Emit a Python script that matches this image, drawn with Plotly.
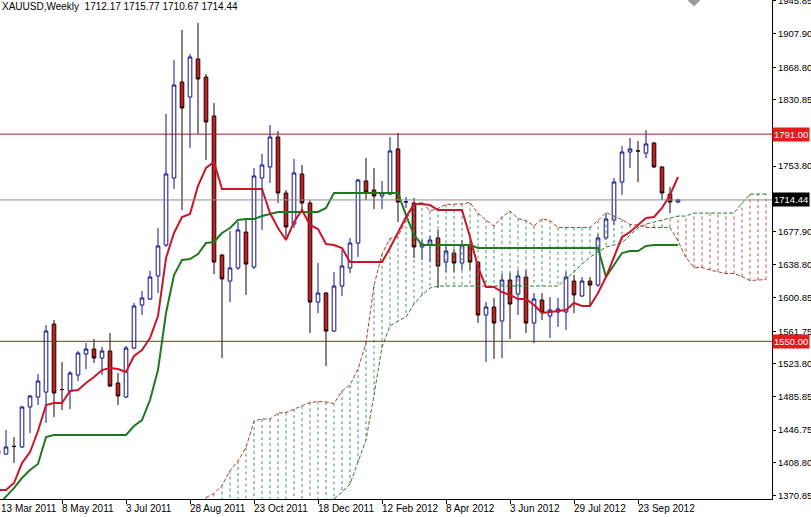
import plotly.graph_objects as go

# ---------------- data ----------------
symbol = "XAUUSD"
timeframe = "Weekly"

tick_weeks = [0, 8, 16, 24, 32, 40, 48, 56, 64, 72, 80]
tick_labels = ["13 Mar 2011", "8 May 2011", "3 Jul 2011", "28 Aug 2011", "23 Oct 2011",
               "18 Dec 2011", "12 Feb 2012", "8 Apr 2012", "3 Jun 2012", "29 Jul 2012",
               "23 Sep 2012"]

opens = [1418.9, 1418.9, 1428.0, 1427.1, 1473.6, 1485.2, 1491.0, 1570.1, 1494.0, 1492.2,
         1510.8, 1535.2, 1541.0, 1530.6, 1538.7, 1501.5, 1485.2, 1542.2, 1592.2, 1599.2,
         1626.0, 1662.0, 1740.0, 1851.6, 1834.2, 1878.4, 1857.4, 1812.1, 1650.4, 1620.1,
         1635.3, 1677.1, 1636.4, 1740.0, 1752.8, 1787.6, 1722.5, 1686.4, 1744.6, 1710.9,
         1595.7, 1606.2, 1562.0, 1614.3, 1635.3, 1664.3, 1736.5, 1726.0, 1719.0, 1721.3,
         1773.7, 1712.0, 1710.9, 1659.7, 1662.0, 1670.2, 1642.2, 1652.7, 1641.1, 1662.0,
         1642.2, 1580.6, 1589.9, 1573.6, 1621.3, 1605.0, 1624.8, 1571.3, 1598.0, 1579.4,
         1584.1, 1584.1, 1620.1, 1602.7, 1620.1, 1615.5, 1670.2, 1691.1, 1735.3, 1770.2,
         1771.6, 1769.0, 1780.7, 1752.8, 1721.3, 1712.17]
highs = [1427.0, 1446.8, 1438.7, 1474.7, 1487.5, 1512.0, 1569.0, 1574.8, 1525.9, 1515.5,
         1538.7, 1548.0, 1552.7, 1543.4, 1559.7, 1513.1, 1544.5, 1594.5, 1608.5, 1631.8,
         1681.8, 1814.4, 1877.2, 1912.1, 1884.2, 1920.2, 1860.9, 1827.2, 1651.5, 1678.3,
         1688.8, 1693.4, 1751.6, 1767.9, 1801.6, 1794.6, 1726.0, 1762.0, 1755.1, 1714.4,
         1641.1, 1607.3, 1630.6, 1656.2, 1670.2, 1738.8, 1763.2, 1751.6, 1736.5, 1787.6,
         1792.3, 1717.9, 1716.7, 1667.8, 1672.5, 1679.5, 1662.0, 1657.4, 1667.8, 1666.7,
         1643.4, 1595.7, 1600.4, 1628.3, 1629.4, 1632.9, 1632.9, 1606.2, 1606.2, 1601.5,
         1600.4, 1630.6, 1627.1, 1624.8, 1624.8, 1674.8, 1698.1, 1739.9, 1777.2, 1786.5,
         1783.0, 1795.8, 1781.5, 1753.5, 1729.5, 1715.77]
lows = [1415.4, 1417.7, 1408.4, 1425.9, 1443.3, 1475.9, 1455.0, 1462.0, 1470.1, 1471.3,
        1503.8, 1517.8, 1524.8, 1510.8, 1496.8, 1475.9, 1484.0, 1541.0, 1580.6, 1598.0,
        1606.2, 1659.7, 1727.2, 1702.7, 1774.8, 1791.1, 1760.9, 1628.3, 1530.6, 1595.7,
        1633.0, 1603.9, 1634.1, 1679.5, 1734.1, 1710.9, 1670.2, 1681.8, 1702.7, 1559.7,
        1582.9, 1521.3, 1560.8, 1602.7, 1629.4, 1648.1, 1714.4, 1703.9, 1703.9, 1720.2,
        1688.8, 1705.1, 1646.9, 1644.6, 1642.2, 1612.0, 1630.6, 1630.6, 1633.0, 1633.0,
        1571.3, 1525.9, 1529.4, 1530.6, 1552.7, 1580.6, 1559.7, 1548.0, 1574.8, 1553.8,
        1566.6, 1563.2, 1582.9, 1601.5, 1592.2, 1613.2, 1667.8, 1685.3, 1720.2, 1751.6,
        1735.3, 1763.2, 1751.6, 1714.4, 1699.2, 1710.67]
closes = [1423.6, 1427.1, 1427.6, 1473.6, 1486.4, 1503.8, 1562.0, 1489.9, 1493.9, 1513.1,
          1536.4, 1541.0, 1530.6, 1538.7, 1498.0, 1486.4, 1542.2, 1591.1, 1600.4, 1624.8,
          1660.9, 1744.6, 1848.1, 1821.4, 1880.7, 1855.1, 1805.1, 1642.2, 1622.5, 1635.3,
          1679.5, 1639.9, 1742.3, 1755.1, 1787.6, 1722.5, 1683.0, 1745.8, 1710.9, 1595.7,
          1606.2, 1562.0, 1614.3, 1637.6, 1664.3, 1737.6, 1723.7, 1719.0, 1722.5, 1771.4,
          1712.0, 1712.3, 1659.7, 1663.2, 1667.8, 1637.6, 1655.0, 1641.1, 1662.0, 1642.2,
          1580.6, 1589.9, 1571.3, 1621.3, 1593.4, 1626.0, 1571.3, 1599.2, 1584.1, 1586.4,
          1587.6, 1624.8, 1603.9, 1620.1, 1615.5, 1670.2, 1692.3, 1735.3, 1770.2, 1773.7,
          1771.4, 1779.5, 1752.8, 1722.5, 1712.0, 1714.44]

tenkan = [1377.0, 1377.0, 1385.2, 1408.4, 1421.2, 1445.7, 1475.9, 1478.2, 1478.2, 1492.2,
          1493.3, 1501.5, 1508.5, 1516.6, 1518.9, 1517.8, 1514.3, 1532.9, 1539.9, 1553.8,
          1579.4, 1646.9, 1676.0, 1694.6, 1698.1, 1730.7, 1751.6, 1758.6, 1727.2, 1727.2,
          1727.2, 1727.2, 1727.2, 1727.2, 1699.2, 1681.8, 1667.8, 1688.8, 1702.7, 1685.3,
          1680.6, 1663.2, 1662.0, 1658.5, 1642.2, 1642.2, 1642.2, 1642.2, 1642.2, 1658.5,
          1677.1, 1694.6, 1709.7, 1709.7, 1708.5, 1702.7, 1702.7, 1702.7, 1702.7, 1671.3,
          1636.4, 1613.2, 1613.2, 1607.3, 1603.9, 1599.2, 1599.2, 1592.2, 1582.9, 1584.1,
          1585.2, 1586.4, 1594.6, 1591.1, 1591.1, 1606.2, 1624.8, 1648.1, 1671.3, 1677.1,
          1685.3, 1693.4, 1694.6, 1705.1, 1720.2, 1741.1]
kijun = [1359.6, 1368.9, 1379.3, 1391.0, 1400.3, 1407.3, 1438.7, 1441.0, 1441.0, 1441.0,
         1441.0, 1441.0, 1441.0, 1441.0, 1441.0, 1441.0, 1441.0, 1451.5, 1458.4, 1481.7,
         1516.6, 1582.9, 1627.1, 1644.6, 1645.7, 1651.5, 1664.3, 1665.5, 1676.0, 1681.8,
         1691.1, 1692.3, 1692.3, 1695.8, 1698.1, 1700.4, 1700.4, 1700.4, 1700.4, 1700.4,
         1700.4, 1705.1, 1722.5, 1722.5, 1722.5, 1722.5, 1722.5, 1722.5, 1722.5, 1722.5,
         1722.5, 1696.9, 1673.7, 1662.0, 1662.0, 1662.0, 1662.0, 1662.0, 1662.0, 1662.0,
         1658.5, 1658.5, 1658.5, 1658.5, 1658.5, 1658.5, 1658.5, 1658.5, 1658.5, 1658.5,
         1658.5, 1658.5, 1658.5, 1658.5, 1658.5, 1658.5, 1624.8, 1638.8, 1652.7, 1655.0,
         1655.0, 1660.9, 1662.0, 1662.0, 1662.0, 1662.0]

cloud_start = 26   # first week index where the cloud values begin
senkou_a = [1368.3, 1373.0, 1382.3, 1399.7, 1410.8, 1426.5, 1457.3, 1459.6, 1459.6, 1466.6,
            1467.2, 1471.3, 1474.8, 1478.8, 1480.0, 1479.4, 1477.7, 1492.2, 1499.2, 1517.8,
            1548.0, 1614.9, 1651.6, 1669.6, 1671.9, 1691.1, 1708.0, 1712.1, 1701.6, 1704.5,
            1709.2, 1709.8, 1709.8, 1711.5, 1698.7, 1691.1, 1684.1, 1694.6, 1701.6, 1692.9,
            1690.5, 1684.2, 1692.3, 1690.5, 1682.4, 1682.4, 1682.4, 1682.4, 1682.4, 1690.5,
            1699.8, 1695.8, 1691.7, 1685.9, 1685.3, 1682.4, 1682.4, 1682.4, 1682.4, 1666.7,
            1647.5, 1635.9, 1635.9, 1632.9, 1631.2, 1628.9, 1628.9, 1625.4, 1620.7, 1621.3,
            1621.9]
senkou_b = [1322.0, 1322.0, 1322.0, 1322.0, 1322.0, 1322.0, 1325.0, 1325.0, 1330.0, 1330.0,
            1335.0, 1340.0, 1345.0, 1350.0, 1355.0, 1360.0, 1366.6, 1374.7, 1384.0, 1408.4,
            1435.2, 1487.5, 1543.4, 1567.8, 1573.6, 1578.3, 1593.4, 1603.9, 1612.0, 1614.3,
            1614.3, 1614.3, 1614.3, 1614.3, 1614.3, 1614.3, 1614.3, 1614.3, 1614.3, 1614.3,
            1614.3, 1614.3, 1614.3, 1614.3, 1614.3, 1622.5, 1630.6, 1639.9, 1648.0, 1653.9,
            1659.7, 1662.0, 1664.3, 1673.6, 1681.8, 1686.4, 1688.8, 1691.1, 1693.4, 1695.7,
            1695.7, 1699.2, 1699.2, 1699.2, 1699.2, 1699.2, 1699.2, 1710.9, 1721.3, 1721.3,
            1721.3]

price_ticks = [1945.85, 1907.90, 1868.80, 1830.85, 1753.80, 1677.90, 1638.80, 1600.85,
               1561.75, 1523.80, 1485.85, 1446.75, 1408.80, 1370.85]
resistance_level = 1791.00
support_level = 1550.00

# ---------------- styling ----------------
FONT = "Liberation Sans, Arial, sans-serif"
X_RANGE = [0.25, 96.75]
Y_RANGE = [1366.6, 1947.0]
BULL_LINE = "#10108a"
BEAR_LINE = "#1a0505"
BEAR_FILL = "#c41e1e"
TENKAN_COLOR = "#c8162a"
KIJUN_COLOR = "#1f7a1f"
SPAN_A_COLOR = "#a8403a"
SPAN_B_COLOR = "#2e7d32"
HATCH_GREEN = "#4a9468"
HATCH_BROWN = "#b35a4a"
LEVEL_COLOR = "#a31d1d"
LABEL_RED = "#e31b1b"
SHIFT_MARK_WEEK = 87

weeks = list(range(len(opens)))
cloud_weeks = list(range(cloud_start, cloud_start + len(senkou_a)))

fig = go.Figure()

# cloud hatching (vertical dotted strokes between the two spans)
gx, gy, bx, by = [], [], [], []
for w, a, b in zip(cloud_weeks, senkou_a, senkou_b):
    if a >= b:
        gx += [w, w, None]; gy += [a, b, None]
    else:
        bx += [w, w, None]; by += [a, b, None]
fig.add_trace(go.Scatter(x=gx, y=gy, mode="lines", hoverinfo="skip",
                         line=dict(color=HATCH_GREEN, width=1, dash="3px,3px")))
fig.add_trace(go.Scatter(x=bx, y=by, mode="lines", hoverinfo="skip",
                         line=dict(color=HATCH_BROWN, width=1, dash="3px,3px")))

# span lines
fig.add_trace(go.Scatter(x=cloud_weeks, y=senkou_a, mode="lines",
                         line=dict(color=SPAN_A_COLOR, width=1, dash="4px,2px")))
fig.add_trace(go.Scatter(x=cloud_weeks, y=senkou_b, mode="lines",
                         line=dict(color=SPAN_B_COLOR, width=1, dash="4px,2px")))

# candles
fig.add_trace(go.Candlestick(
    x=weeks, open=opens, high=highs, low=lows, close=closes,
    whiskerwidth=0,
    increasing=dict(line=dict(color=BULL_LINE, width=1), fillcolor="#ffffff"),
    decreasing=dict(line=dict(color=BEAR_LINE, width=1), fillcolor=BEAR_FILL),
))

# tenkan / kijun
fig.add_trace(go.Scatter(x=weeks, y=kijun, mode="lines",
                         line=dict(color=KIJUN_COLOR, width=2)))
fig.add_trace(go.Scatter(x=weeks, y=tenkan, mode="lines",
                         line=dict(color=TENKAN_COLOR, width=2)))

# chart-shift marker at the top
fig.add_trace(go.Scatter(x=[SHIFT_MARK_WEEK], y=[Y_RANGE[1]], mode="markers",
                         marker=dict(symbol="diamond", size=10, color="#9a9a9a")))

# horizontal level lines
for lvl in (resistance_level, support_level):
    fig.add_shape(type="line", xref="paper", x0=0, x1=1, yref="y", y0=lvl, y1=lvl,
                  line=dict(color=LEVEL_COLOR, width=1))
fig.add_shape(type="line", xref="paper", x0=0, x1=1, yref="y", y0=closes[-1], y1=closes[-1],
              line=dict(color="#8c8c8c", width=1))

annotations = []
# price labels on the axis
for lvl, bg in ((resistance_level, LABEL_RED), (support_level, LABEL_RED), (closes[-1], "#000000")):
    annotations.append(dict(x=1, xref="paper", y=lvl, yref="y", xanchor="left", yanchor="middle",
                            text=f"{lvl:.2f}", showarrow=False, bgcolor=bg, borderpad=1,
                            xshift=0, font=dict(family=FONT, size=9.5, color="#ffffff")))
# date labels (left aligned at their tick, as in the terminal)
for w, lab in zip(tick_weeks, tick_labels):
    xp = max((w - X_RANGE[0]) / (X_RANGE[1] - X_RANGE[0]), 0.0)
    annotations.append(dict(x=xp, xref="paper", y=0, yref="paper", xanchor="left", yanchor="top",
                            text=lab, showarrow=False, xshift=-2 if xp > 0 else -1, yshift=-2,
                            font=dict(family=FONT, size=10, color="#000000")))
# header
annotations.append(dict(x=0, xref="paper", y=1, yref="paper", xanchor="left", yanchor="top",
                        text=f"{symbol},{timeframe}\u00a0\u00a0{opens[-1]:.2f} {highs[-1]:.2f} "
                             f"{lows[-1]:.2f} {closes[-1]:.2f}",
                        showarrow=False, xshift=0, yshift=1,
                        font=dict(family=FONT, size=10, color="#000000")))

fig.update_layout(
    width=811, height=517,
    margin=dict(l=0, r=39, t=0, b=18, autoexpand=False),
    paper_bgcolor="#ffffff", plot_bgcolor="#ffffff",
    showlegend=False,
    boxgap=0.35,
    annotations=annotations,
    xaxis=dict(range=X_RANGE, tickvals=tick_weeks, showticklabels=False,
               ticks="outside", ticklen=4, tickcolor="#000000", automargin=False,
               showline=True, linecolor="#000000", linewidth=1,
               showgrid=False, zeroline=False, rangeslider=dict(visible=False)),
    yaxis=dict(range=Y_RANGE, side="right", tickvals=price_ticks,
               ticktext=[f"{v:.2f}" for v in price_ticks],
               ticks="outside", ticklen=3, tickcolor="#000000",
               tickfont=dict(family=FONT, size=9.5, color="#000000"),
               ticklabeloverflow="allow", automargin=False,
               showline=True, linecolor="#000000", linewidth=1,
               showgrid=False, zeroline=False),
)

fig.write_html("out.html", config={"displayModeBar": False},
               post_script="document.body.style.margin='0px';document.body.style.padding='0px';")
